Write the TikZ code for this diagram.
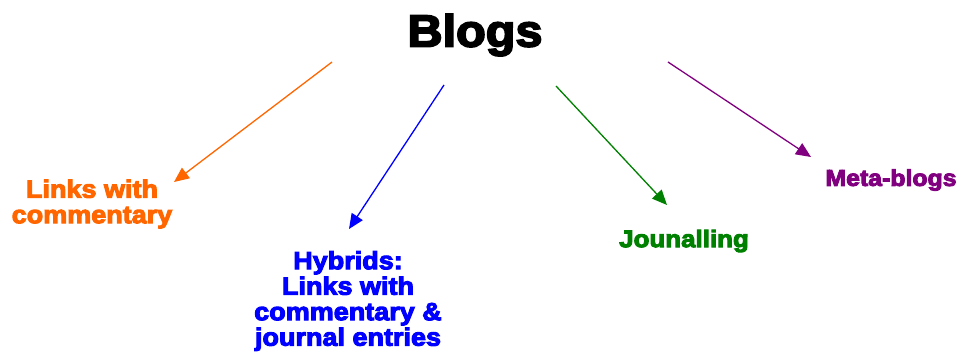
\documentclass[tikz,border=0pt]{standalone}
\usepackage{fontspec}
\setmainfont{Liberation Sans}
\newfontfamily\heavy{Liberation Sans}[UprightFont=*-Bold, FakeBold=4, FakeStretch=1.08]
\usetikzlibrary{arrows.meta}
\definecolor{blogorange}{HTML}{FF6600}
\definecolor{blogblue}{HTML}{0000FF}
\definecolor{bloggreen}{HTML}{008000}
\definecolor{blogpurple}{HTML}{800080}
\begin{document}
\begin{tikzpicture}[x=1pt,y=-1pt,
  label/.style={font=\heavy\fontsize{25}{25.5}\selectfont, align=center, inner sep=0pt},
  branch/.style={line width=1.3pt, -{Triangle[length=15pt,width=13pt]}}]
\useasboundingbox (0,0) rectangle (959,351);
% title
\node[font=\heavy\fontsize{45}{45}\selectfont, inner sep=0pt] (blogs) at (475,35) {Blogs};
% categories
\node[label, text=blogorange] (links) at (92,204) {Links with\\commentary};
\node[label, text=blogblue] (hybrid) at (348,301) {Hybrids:\\Links with\\commentary \&\\journal entries};
\node[label, text=bloggreen, font=\heavy\fontsize{24}{25}\selectfont] (journal) at (684,241) {Jounalling};
\node[label, text=blogpurple, font=\heavy\fontsize{23}{25}\selectfont] (meta) at (891,180) {Meta-blogs};
% arrow ends
\coordinate (s1) at (332,62);  \coordinate (e1) at (174,182);
\coordinate (s2) at (444,85);  \coordinate (e2) at (349,229);
\coordinate (s3) at (556,86);  \coordinate (e3) at (667,205);
\coordinate (s4) at (668,62);  \coordinate (e4) at (811,157);
\draw[branch, blogorange] (s1) -- (e1);
\draw[branch, blogblue] (s2) -- (e2);
\draw[branch, bloggreen] (s3) -- (e3);
\draw[branch, blogpurple] (s4) -- (e4);
\end{tikzpicture}
\end{document}
